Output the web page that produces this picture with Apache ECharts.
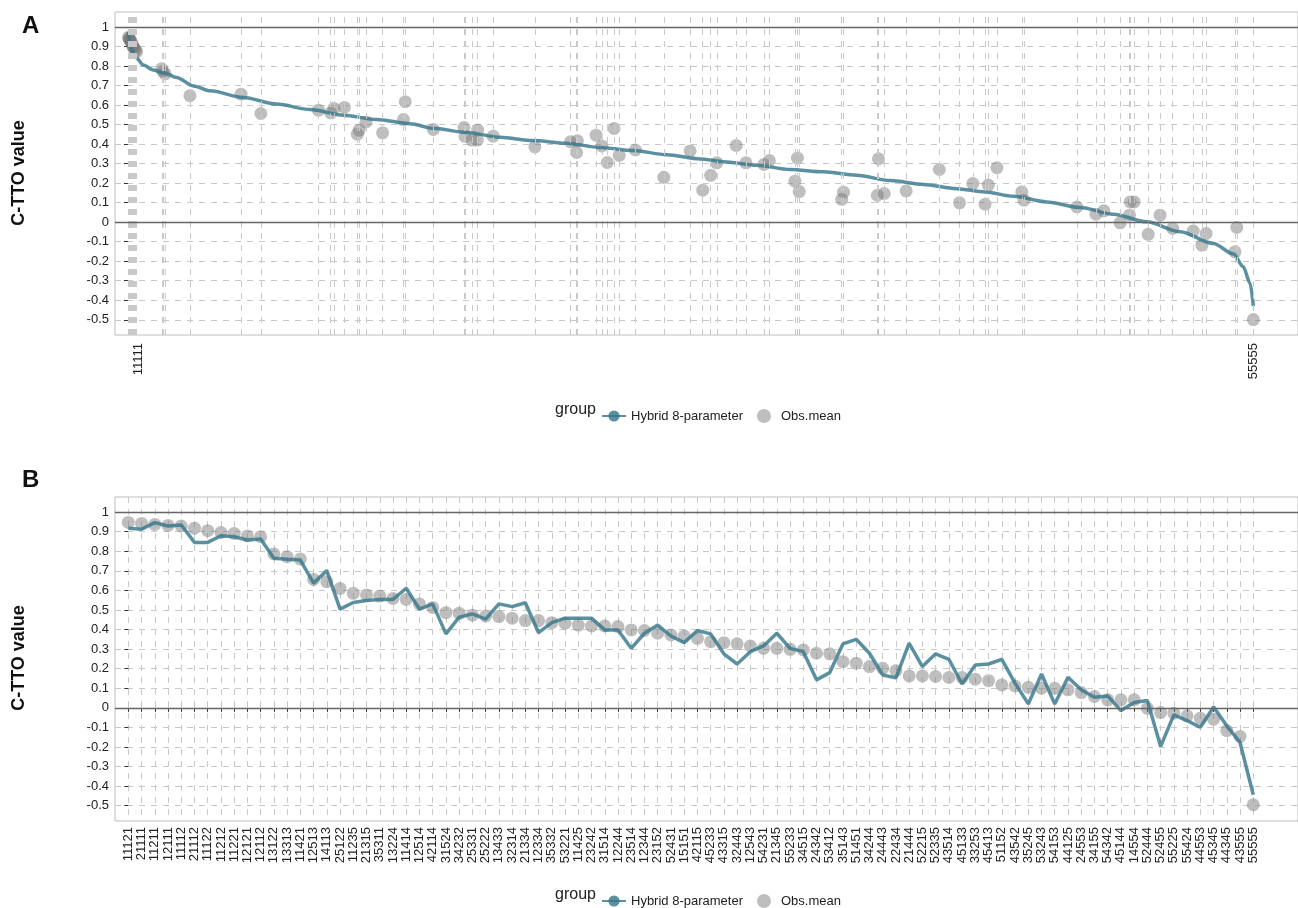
<!DOCTYPE html>
<html>
<head>
<meta charset="utf-8">
<script src="https://cdn.jsdelivr.net/npm/echarts@6/dist/echarts.min.js"></script>
<style>
  html, body { margin: 0; padding: 0; background: #fff; }
  #chart { width: 1298px; height: 908px; }
</style>
</head>
<body>
<div id="chart"></div>
<script>
// panel A: predicted values of all states, sorted (rank 1 = 11111, rank 3125 = 55555)
const curveRank = [1, 10, 24, 43, 70, 103, 135, 182, 228, 320, 413, 506, 598, 691, 783, 848, 941, 1033, 1126, 1218, 1311, 1403, 1496, 1589, 1653, 1746, 1839, 1931, 2024, 2116, 2209, 2301, 2380, 2459, 2551, 2644, 2736, 2829, 2922, 3014, 3070, 3097, 3116, 3125]
const curveValue = [0.975, 0.882, 0.84, 0.805, 0.78, 0.763, 0.742, 0.698, 0.673, 0.639, 0.605, 0.577, 0.548, 0.526, 0.505, 0.481, 0.46, 0.435, 0.418, 0.404, 0.383, 0.367, 0.346, 0.324, 0.31, 0.292, 0.27, 0.258, 0.241, 0.213, 0.193, 0.172, 0.155, 0.133, 0.104, 0.075, 0.041, 0.002, -0.049, -0.109, -0.163, -0.228, -0.313, -0.43]

// panel A: observed means at the rank of their state
const obsRankA = [2, 3, 4, 6, 8, 10, 13, 15, 18, 21, 24, 94, 97, 103, 172, 314, 369, 529, 563, 572, 601, 637, 642, 661, 707, 765, 770, 848, 933, 936, 955, 970, 971, 1014, 1130, 1229, 1246, 1248, 1300, 1316, 1331, 1350, 1364, 1409, 1488, 1561, 1596, 1618, 1635, 1689, 1716, 1766, 1781, 1852, 1859, 1864, 1982, 1987, 2081, 2084, 2100, 2161, 2253, 2309, 2346, 2380, 2389, 2413, 2482, 2488, 2635, 2688, 2710, 2755, 2781, 2783, 2794, 2833, 2866, 2901, 2958, 2982, 2994, 3074, 3079, 3125]
const obsMeanA = [0.947, 0.942, 0.937, 0.932, 0.929, 0.918, 0.905, 0.896, 0.891, 0.878, 0.874, 0.786, 0.772, 0.76, 0.648, 0.656, 0.557, 0.574, 0.56, 0.583, 0.588, 0.451, 0.472, 0.514, 0.458, 0.526, 0.617, 0.475, 0.485, 0.44, 0.421, 0.421, 0.472, 0.441, 0.386, 0.412, 0.357, 0.417, 0.446, 0.391, 0.306, 0.48, 0.342, 0.37, 0.23, 0.365, 0.164, 0.24, 0.304, 0.393, 0.304, 0.296, 0.316, 0.21, 0.329, 0.157, 0.117, 0.154, 0.138, 0.325, 0.147, 0.16, 0.27, 0.099, 0.198, 0.092, 0.19, 0.279, 0.155, 0.113, 0.078, 0.041, 0.058, -0.003, 0.036, 0.104, 0.104, -0.062, 0.036, -0.032, -0.045, -0.118, -0.058, -0.152, -0.027, -0.499]
const endLabelsA = ["11111", "55555"]
const endRanksA = [28, 3125]

// panel B: observed states ordered by observed mean
const statesB = ["11121", "21111", "11211", "12111", "11112", "21112", "11122", "11212", "11221", "12121", "12112", "13122", "13313", "11421", "12513", "14113", "25122", "11235", "21315", "35311", "13224", "11414", "12514", "42114", "31524", "34232", "25331", "25222", "13433", "32314", "21334", "12334", "35332", "53221", "11425", "23242", "31514", "12244", "23514", "12344", "23152", "52431", "15151", "42115", "45233", "43315", "32443", "12543", "54231", "21345", "55233", "34515", "24342", "53412", "35143", "51451", "34244", "24443", "22434", "21444", "52215", "52335", "43514", "45133", "33253", "45413", "51152", "43542", "35245", "53243", "54153", "44125", "24553", "34155", "54342", "45144", "14554", "52444", "52455", "55225", "55424", "44553", "45345", "44345", "43555", "55555"]
const obsB = [0.947, 0.942, 0.937, 0.932, 0.929, 0.918, 0.905, 0.896, 0.891, 0.878, 0.874, 0.786, 0.772, 0.76, 0.656, 0.644, 0.61, 0.585, 0.577, 0.571, 0.559, 0.554, 0.531, 0.513, 0.486, 0.483, 0.473, 0.469, 0.466, 0.458, 0.446, 0.446, 0.435, 0.432, 0.423, 0.418, 0.418, 0.415, 0.398, 0.395, 0.381, 0.372, 0.367, 0.355, 0.338, 0.333, 0.327, 0.316, 0.304, 0.304, 0.299, 0.296, 0.279, 0.276, 0.236, 0.228, 0.211, 0.202, 0.19, 0.163, 0.163, 0.16, 0.155, 0.155, 0.146, 0.139, 0.117, 0.112, 0.105, 0.1, 0.1, 0.092, 0.078, 0.058, 0.041, 0.041, 0.041, -0.002, -0.024, -0.027, -0.041, -0.053, -0.058, -0.116, -0.146, -0.495]
const predB = [0.917, 0.912, 0.946, 0.929, 0.934, 0.845, 0.845, 0.879, 0.874, 0.857, 0.862, 0.764, 0.759, 0.755, 0.637, 0.701, 0.504, 0.538, 0.548, 0.554, 0.554, 0.611, 0.504, 0.531, 0.378, 0.463, 0.48, 0.453, 0.531, 0.517, 0.537, 0.384, 0.435, 0.458, 0.458, 0.458, 0.398, 0.398, 0.304, 0.381, 0.423, 0.367, 0.333, 0.395, 0.378, 0.276, 0.224, 0.287, 0.316, 0.381, 0.304, 0.287, 0.143, 0.18, 0.327, 0.35, 0.279, 0.168, 0.153, 0.33, 0.211, 0.276, 0.248, 0.122, 0.219, 0.224, 0.248, 0.126, 0.02, 0.173, 0.02, 0.156, 0.092, 0.054, 0.061, -0.014, 0.027, 0.037, -0.197, -0.036, -0.065, -0.099, 0.004, -0.092, -0.177, -0.444]

const yTicks = [-0.5, -0.4, -0.3, -0.2, -0.1, 0, 0.1, 0.2, 0.3, 0.4, 0.5, 0.6, 0.7, 0.8, 0.9, 1]
const refLines = [0, 1]

const FONT = "Liberation Sans, Arial, sans-serif"
const LINE_COLOR = "rgba(55,120,140,0.82)"
const DOT_COLOR = "rgba(120,120,120,0.6)"
const GRID_COLOR = "#c9c9c9"

const chart = echarts.init(document.getElementById("chart"), null, { renderer: "canvas" })

function yAxisFor(gridIndex) {
  return {
    type: "value",
    gridIndex,
    min: -0.578,
    max: 1.077,
    axisLine: { show: false },
    axisTick: { show: true, customValues: yTicks, length: 4, lineStyle: { color: "#333" } },
    axisLabel: { customValues: yTicks, color: "#222", fontSize: 13, fontFamily: FONT, margin: 6 },
    splitLine: { show: true, lineStyle: { color: GRID_COLOR, type: [6, 6], width: 1 } }
  }
}

function legendAt(top) {
  return {
    left: 596, top, itemWidth: 24, itemHeight: 14, itemGap: 14,
    textStyle: { fontSize: 13, color: "#222" },
    data: [{ name: "Hybrid 8-parameter" }, { name: "Obs.mean" }]
  }
}

const hLines = refLines.map((v) => ({ yAxis: v }))
const stateIdx = statesB.map((_, i) => i)

const option = {
  animation: false,
  backgroundColor: "#fff",
  textStyle: { fontFamily: FONT },
  grid: [
    { left: 115, right: 0, top: 12, bottom: 573, show: true, borderColor: "#bdbdbd", borderWidth: 1 },
    { left: 115, right: 0, top: 497, bottom: 87, show: true, borderColor: "#bdbdbd", borderWidth: 1 }
  ],
  xAxis: [
    {
      type: "value",
      gridIndex: 0,
      min: -36,
      max: 3249,
      axisLine: { show: false },
      axisTick: { show: true, customValues: obsRankA, length: 5, lineStyle: { color: "#222" } },
      axisLabel: {
        customValues: endRanksA,
        rotate: 90,
        fontSize: 13,
        color: "#222",
        margin: 8,
        formatter: (v) => endLabelsA[endRanksA.indexOf(v)]
      },
      splitLine: { show: false }
    },
    {
      type: "value",
      gridIndex: 1,
      min: -1.005,
      max: 88.38,
      axisLine: { show: false },
      axisTick: { show: true, customValues: stateIdx, length: 4, lineStyle: { color: "#333" } },
      axisLabel: {
        customValues: stateIdx,
        rotate: 90,
        fontSize: 13,
        color: "#222",
        margin: 6,
        formatter: (v) => statesB[v]
      },
      splitLine: { show: true, lineStyle: { color: GRID_COLOR, type: [6, 6], width: 1 } }
    }
  ],
  yAxis: [yAxisFor(0), yAxisFor(1)],
  legend: [legendAt(404), legendAt(889)],
  graphic: [
    { type: "text", left: 22, top: 14, style: { text: "A", font: "bold 24px " + FONT, fill: "#111" } },
    { type: "text", left: 22, top: 468, style: { text: "B", font: "bold 24px " + FONT, fill: "#111" } },
    { type: "text", x: 10, y: 173, rotation: Math.PI / 2, style: { text: "C-TTO value", font: "bold 18px " + FONT, fill: "#111", align: "center", verticalAlign: "top" } },
    { type: "text", x: 10, y: 658, rotation: Math.PI / 2, style: { text: "C-TTO value", font: "bold 18px " + FONT, fill: "#111", align: "center", verticalAlign: "top" } },
    { type: "text", left: 555, top: 402, style: { text: "group", font: "16px " + FONT, fill: "#222" } },
    { type: "text", left: 555, top: 887, style: { text: "group", font: "16px " + FONT, fill: "#222" } }
  ],
  series: [
    {
      name: "Obs.mean",
      type: "scatter",
      xAxisIndex: 0,
      yAxisIndex: 0,
      symbolSize: 13,
      itemStyle: { color: DOT_COLOR },
      data: obsRankA.map((r, i) => [r, obsMeanA[i]]),
      markLine: {
        silent: true,
        symbol: "none",
        label: { show: false },
        lineStyle: { color: GRID_COLOR, type: [6, 6], width: 1 },
        data: obsRankA.map((r) => ({ xAxis: r }))
      },
      z: 3
    },
    {
      name: "Hybrid 8-parameter",
      type: "line",
      xAxisIndex: 0,
      yAxisIndex: 0,
      smooth: 0.3,
      smoothMonotone: "x",
      symbol: "circle",
      symbolSize: 10,
      showSymbol: false,
      clip: false,
      itemStyle: { color: LINE_COLOR },
      lineStyle: { color: LINE_COLOR, width: 3.5 },
      data: curveRank.map((r, i) => [r, curveValue[i]]),
      markLine: {
        silent: true,
        symbol: "none",
        label: { show: false },
        lineStyle: { color: "#666", type: "solid", width: 1.3 },
        data: hLines
      },
      z: 4
    },
    {
      name: "Obs.mean",
      type: "scatter",
      xAxisIndex: 1,
      yAxisIndex: 1,
      symbolSize: 13,
      itemStyle: { color: DOT_COLOR },
      data: obsB.map((v, i) => [i, v]),
      z: 3
    },
    {
      name: "Hybrid 8-parameter",
      type: "line",
      xAxisIndex: 1,
      yAxisIndex: 1,
      symbol: "circle",
      symbolSize: 10,
      showSymbol: false,
      itemStyle: { color: LINE_COLOR },
      lineStyle: { color: LINE_COLOR, width: 3.5 },
      data: predB.map((v, i) => [i, v]),
      markLine: {
        silent: true,
        symbol: "none",
        label: { show: false },
        lineStyle: { color: "#666", type: "solid", width: 1.3 },
        data: hLines
      },
      z: 4
    }
  ]
}

chart.setOption(option)
</script>
</body>
</html>
